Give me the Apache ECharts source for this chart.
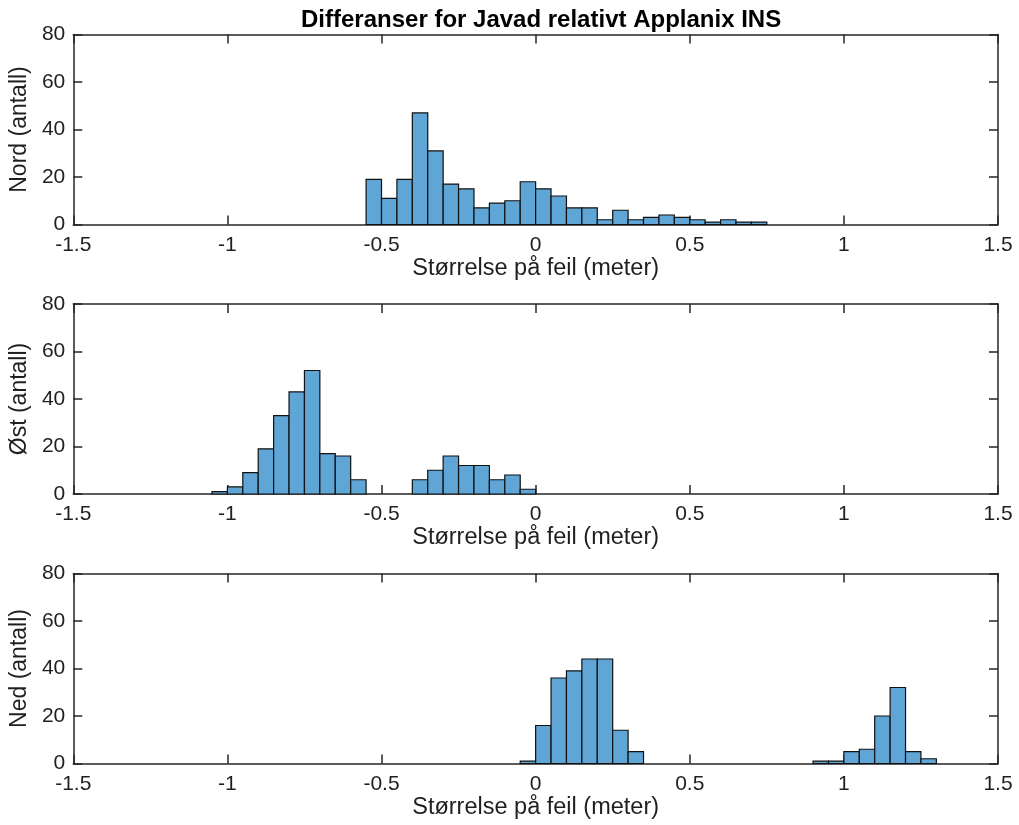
<!DOCTYPE html>
<html><head><meta charset="utf-8">
<script src="https://cdn.jsdelivr.net/npm/echarts@6/dist/echarts.min.js"></script>
<style>html,body{margin:0;padding:0;background:#fff}#c{width:1019px;height:825px}</style>
</head><body><div id="c"></div>
<script>
const titleText = 'Differanser for Javad relativt Applanix INS';
const xLabel = 'Størrelse på feil (meter)';
const yLabels = ['Nord (antall)', 'Øst (antall)', 'Ned (antall)'];
const binWidth = 0.05;
const nordStart = -0.55;
const nordCounts = [19,11,19,47,31,17,15,7,9,10,18,15,12,7,7,2,6,2,3,4,3,2,1,2,1,1];
const ostStart = -1.05;
const ostCounts = [1,3,9,19,33,43,52,17,16,6,0,0,0,6,10,16,12,12,6,8,2];
const nedStart = -0.05;
const nedCounts = [1,16,36,39,44,44,14,5,0,0,0,0,0,0,0,0,0,0,0,1,1,5,6,20,32,5,2];
const xTicks = [-1.5,-1,-0.5,0,0.5,1,1.5];
const yTicks = [0,20,40,60,80];

const starts = [nordStart, ostStart, nedStart];
const counts = [nordCounts, ostCounts, nedCounts];
const font = 'Liberation Sans, Arial, Helvetica, sans-serif';
const axisColor = '#262626';
const textColor = '#1f1f1f';
const tops = [34.5, 304, 573.5];
const H = 190;

const grids = [], xAxes = [], yAxes = [], series = [];
for (let p = 0; p < 3; p++) {
  grids.push({left: 73, right: 21, top: tops[p], height: H, containLabel: false});
  const common = {min: -1.5, max: 1.5, interval: 0.5, gridIndex: p,
    axisLine: {show: true, onZero: false, lineStyle: {color: axisColor, width: 1.5}},
    axisTick: {show: true, inside: true, length: 9, lineStyle: {color: axisColor, width: 1.5}},
    splitLine: {show: false}};
  xAxes.push(Object.assign({}, common, {type: 'value', position: 'bottom',
    axisLabel: {show: true, color: textColor, fontSize: 21, fontFamily: font, margin: 10,
      formatter: v => String(v)},
    name: xLabel, nameLocation: 'middle', nameGap: 32,
    nameTextStyle: {color: textColor, fontSize: 23.5, fontFamily: font}}));
  xAxes.push(Object.assign({}, common, {type: 'value', position: 'top', axisLabel: {show: false}}));
  const ycommon = {type: 'value', min: 0, max: 80, interval: 20, gridIndex: p,
    axisLine: {show: true, onZero: false, lineStyle: {color: axisColor, width: 1.5}},
    axisTick: {show: true, inside: true, length: 9, lineStyle: {color: axisColor, width: 1.5}},
    splitLine: {show: false}};
  yAxes.push(Object.assign({}, ycommon, {position: 'left',
    axisLabel: {show: true, color: textColor, fontSize: 21, fontFamily: font, margin: 8},
    name: yLabels[p], nameLocation: 'middle', nameGap: 35,
    nameTextStyle: {color: textColor, fontSize: 23, fontFamily: font}}));
  yAxes.push(Object.assign({}, ycommon, {position: 'right', axisLabel: {show: false}}));
  const data = counts[p].map((c, i) => [starts[p] + i * binWidth, starts[p] + (i + 1) * binWidth, c]).filter(d => d[2] > 0);
  series.push({
    type: 'custom', xAxisIndex: 2 * p, yAxisIndex: 2 * p, data: data,
    renderItem: function (params, api) {
      const a = api.coord([api.value(0), api.value(2)]);
      const b = api.coord([api.value(1), 0]);
      return {type: 'rect', shape: {x: a[0], y: a[1], width: b[0] - a[0], height: b[1] - a[1]},
        style: {fill: '#5fa6d7', stroke: '#111', lineWidth: 1.2}};
    },
    encode: {x: [0, 1], y: 2}, silent: true, animation: false
  });
}

const chart = echarts.init(document.getElementById('c'));
chart.setOption({
  animation: false,
  title: {text: titleText, left: 296, top: 3,
    textStyle: {fontSize: 24, fontWeight: 'bold', fontFamily: font, color: '#000'}},
  grid: grids, xAxis: xAxes, yAxis: yAxes, series: series
});
</script></body></html>
